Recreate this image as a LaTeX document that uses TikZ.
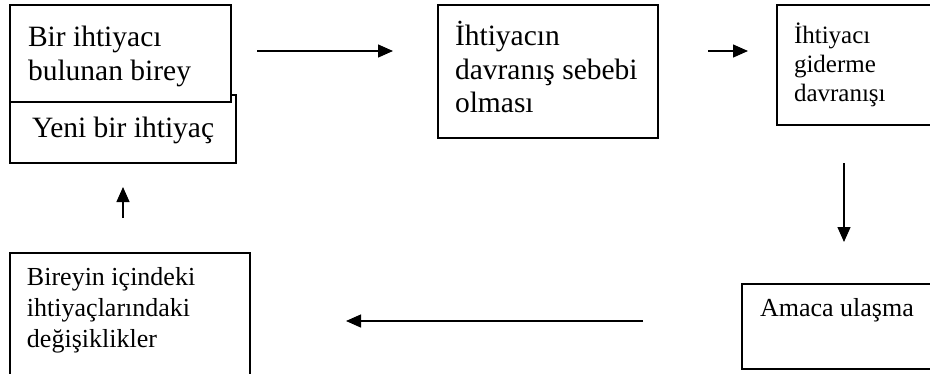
\documentclass[tikz,border=0pt]{standalone}
\usepackage{fontspec}
\setmainfont{Liberation Serif}
\usetikzlibrary{arrows.meta}
% #1 width, #2 height, #3 font size, #4 line distance, #5 top gap, #6 text
\newcommand\cellbody[6]{\parbox[c][#2][t]{#1}{\fontsize{#3}{#4}\selectfont
  \lineskiplimit=-\maxdimen\raggedright\vspace*{#5}\strut #6}}
\begin{document}
\begin{tikzpicture}[x=1pt, y=-1pt,
  box/.style={draw, line width=1.3pt, fill=white, anchor=north west,
              inner ysep=0pt, outer sep=0pt},
  arr/.style={line width=1.3pt, -{Triangle[length=15pt, width=13pt]}}]
  \useasboundingbox (0,0) rectangle (930,373);
  \clip (0,0) rectangle (930,373);

  % lower part of the stacked pair, drawn first so the upper box covers its top
  \node[box, inner xsep=22pt] (b2) at (10,95)
    {\cellbody{182pt}{68pt}{29.5}{30}{21pt}{\mbox{Yeni bir ihtiyaç}}};
  \node[box, inner xsep=18pt] (b1) at (10,5)
    {\cellbody{185pt}{97pt}{29.5}{34}{17.2pt}{Bir ihtiyacı\\ bulunan birey}};

  \node[box, inner xsep=17pt] (b3) at (438,5)
    {\cellbody{186pt}{133pt}{29.5}{33.5}{16.5pt}{İhtiyacın\\ \mbox{davranış sebebi}\\ olması}};

  \node[box, inner xsep=17pt] (b4) at (777,5)
    {\cellbody{168pt}{120pt}{25}{29}{17.7pt}{İhtiyacı\\ giderme\\ davranışı}};

  \node[box, inner xsep=17pt] (b5) at (10,253)
    {\cellbody{206pt}{130pt}{26}{31}{11pt}{Bireyin içindeki\\ ihtiyaçlarındaki\\ değişiklikler}};

  \node[box, inner xsep=18pt] (b6) at (742,284)
    {\cellbody{164pt}{85pt}{26}{30}{11pt}{Amaca ulaşma}};

  % connectors of the cycle
  \draw[arr, shorten <=26pt, shorten >=45pt] (b1.east |- 0,51) -- (b3.west |- 0,51);
  \draw[arr, shorten <=50pt, shorten >=29pt] (b3.east |- 0,51) -- (b4.west |- 0,51);
  \draw[arr, shorten <=38pt, shorten >=42pt] (844,0 |- b4.south) -- (844,0 |- b6.north);
  \draw[arr, shorten <=99pt, shorten >=96pt] (b6.west |- 0,321) -- (b5.east |- 0,321);
  \draw[arr, shorten <=35pt, shorten >=24pt] (123,0 |- b5.north) -- (123,0 |- b2.south);
\end{tikzpicture}
\end{document}
